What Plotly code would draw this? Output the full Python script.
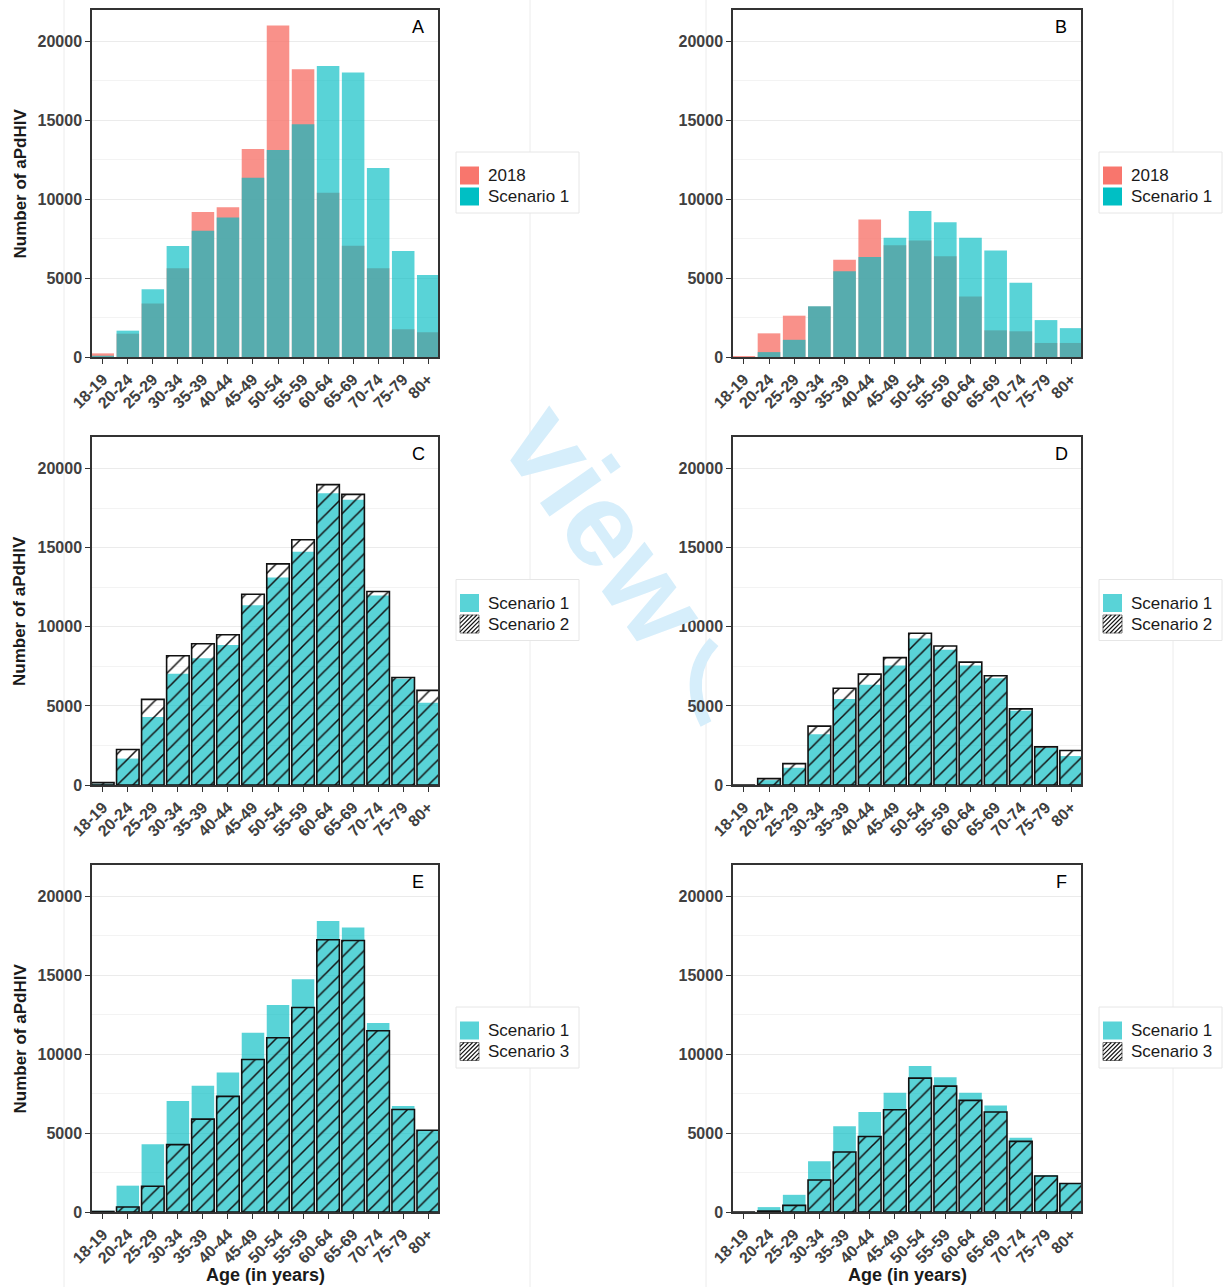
import plotly.graph_objects as go

# ---- data -----------------------------------------------------------------
ages = ["18-19", "20-24", "25-29", "30-34", "35-39", "40-44", "45-49",
        "50-54", "55-59", "60-64", "65-69", "70-74", "75-79", "80+"]

# left column (A, C, E)
pdhiv_2018_left = [230, 1480, 3390, 5630, 9200, 9500, 13180, 21010, 18240,
                   10410, 7050, 5630, 1760, 1570]
scenario1_left = [80, 1670, 4300, 7030, 8010, 8850, 11370, 13120, 14750,
                  18450, 18030, 11980, 6720, 5200]
scenario2_left = [150, 2240, 5410, 8170, 8930, 9500, 12060, 13980, 15500,
                  18990, 18370, 12230, 6800, 5980]
scenario3_left = [30, 320, 1630, 4270, 5890, 7330, 9670, 11050, 12970,
                  17260, 17210, 11490, 6500, 5180]

# right column (B, D, F)
pdhiv_2018_right = [60, 1500, 2620, 3200, 6170, 8720, 7080, 7390, 6380,
                    3840, 1690, 1630, 890, 890]
scenario1_right = [0, 310, 1090, 3210, 5430, 6340, 7560, 9260, 8550,
                   7560, 6750, 4700, 2340, 1830]
scenario2_right = [0, 400, 1350, 3720, 6120, 7010, 8050, 9590, 8790,
                   7770, 6910, 4810, 2410, 2180]
scenario3_right = [0, 60, 420, 2030, 3800, 4790, 6480, 8490, 7980,
                   7080, 6340, 4480, 2280, 1810]

y_ticks = [0, 5000, 10000, 15000, 20000]

# ---- styling ----------------------------------------------------------------
W, H = 1223, 1287
FONT = "Liberation Sans, Arial, sans-serif"
RED = "rgba(248,118,109,0.80)"
TEAL = "rgba(0,188,194,0.65)"
RED_KEY = "#F8766D"
TEAL_KEY = "#00BFC4"
INK = "#1a1a1a"
FRAME = "#333333"
WATERMARK = "#d6eefb"


def px(x):
    return x / W


def py(y):
    return 1 - y / H


# panel letter, left, right, top, bottom (pixels)
panels = [
    ("A", 92, 438, 10, 357),
    ("B", 733, 1081, 10, 357),
    ("C", 92, 438, 437, 785),
    ("D", 733, 1081, 437, 785),
    ("E", 92, 438, 865, 1212),
    ("F", 733, 1081, 865, 1212),
]

fig = go.Figure()


def solid_bar(values, color, name, k):
    return go.Bar(x=ages, y=values, name=name, width=0.9,
                  marker=dict(color=color, line=dict(width=0)),
                  xaxis=f"x{k}", yaxis=f"y{k}", showlegend=False)


def hatch_bar(values, name, k):
    return go.Bar(x=ages, y=values, name=name, width=0.9,
                  marker=dict(color="rgba(0,0,0,0)",
                              line=dict(color="#111111", width=1.6),
                              pattern=dict(shape="/", fgcolor="#111111",
                                           bgcolor="rgba(0,0,0,0)",
                                           size=11, solidity=0.14,
                                           fillmode="replace")),
                  xaxis=f"x{k}", yaxis=f"y{k}", showlegend=False)


fig.add_trace(solid_bar(pdhiv_2018_left, RED, "2018", 1))
fig.add_trace(solid_bar(scenario1_left, TEAL, "Scenario 1", 1))
fig.add_trace(solid_bar(pdhiv_2018_right, RED, "2018", 2))
fig.add_trace(solid_bar(scenario1_right, TEAL, "Scenario 1", 2))
fig.add_trace(solid_bar(scenario1_left, TEAL, "Scenario 1", 3))
fig.add_trace(hatch_bar(scenario2_left, "Scenario 2", 3))
fig.add_trace(solid_bar(scenario1_right, TEAL, "Scenario 1", 4))
fig.add_trace(hatch_bar(scenario2_right, "Scenario 2", 4))
fig.add_trace(solid_bar(scenario1_left, TEAL, "Scenario 1", 5))
fig.add_trace(hatch_bar(scenario3_left, "Scenario 3", 5))
fig.add_trace(solid_bar(scenario1_right, TEAL, "Scenario 1", 6))
fig.add_trace(hatch_bar(scenario3_right, "Scenario 3", 6))

layout = dict(
    width=W, height=H, margin=dict(l=0, r=0, t=0, b=0, autoexpand=False),
    paper_bgcolor="white", plot_bgcolor="white",
    barmode="overlay", bargap=0.1, showlegend=False,
    font=dict(family=FONT, color=INK),
)

shapes = []
annotations = []

# faint page rules behind the figure
for xr in (64, 530, 706, 1173):
    shapes.append(dict(type="line", xref="paper", yref="paper",
                       x0=px(xr), x1=px(xr), y0=0, y1=1, layer="below",
                       line=dict(color="#ececec", width=1)))

# watermark fragments visible between the columns
annotations.append(dict(text="view", xref="paper", yref="paper",
                        x=px(606), y=py(524), showarrow=False,
                        textangle=55,
                        font=dict(family=FONT, size=120, color=WATERMARK,
                                  weight="bold")))
shapes.append(dict(type="path", xref="paper", yref="paper", layer="below",
                   path=(f"M {px(714)},{py(642)} "
                         f"Q {px(682)},{py(676)} {px(706)},{py(724)}"),
                   line=dict(color=WATERMARK, width=12)))

for k, (letter, x0, x1, y0, y1) in enumerate(panels, start=1):
    xa = dict(domain=[px(x0), px(x1)], anchor=f"y{k}", automargin=False,
              type="category", range=[-0.43, 13.39],
              showline=True, linecolor=FRAME, linewidth=1.5, mirror=True,
              ticks="outside", ticklen=5, tickwidth=1.2, tickcolor=FRAME,
              tickangle=-45, showgrid=False, zeroline=False,
              tickfont=dict(family=FONT, size=16, color="#404040",
                            weight="bold"))
    ya = dict(domain=[py(y1), py(y0)], anchor=f"x{k}", automargin=False,
              range=[0, 22000], tickvals=y_ticks,
              ticktext=[str(v) for v in y_ticks],
              showline=True, linecolor=FRAME, linewidth=1.5, mirror=True,
              ticks="outside", ticklen=5, tickwidth=1.2, tickcolor=FRAME,
              showgrid=True, gridcolor="#ebebeb", gridwidth=0.8,
              minor=dict(dtick=2500, tick0=0, showgrid=True,
                         gridcolor="#f3f3f3", gridwidth=0.6, ticks=""),
              zeroline=False,
              tickfont=dict(family=FONT, size=16, color="#404040",
                            weight="bold"))
    sfx = "" if k == 1 else str(k)
    layout[f"xaxis{sfx}"] = xa
    layout[f"yaxis{sfx}"] = ya

    # panel letter
    annotations.append(dict(text=letter, xref="paper", yref="paper",
                            x=px(x1 - 20), y=py(y0 + 17), showarrow=False,
                            xanchor="center", yanchor="middle",
                            font=dict(family=FONT, size=18, color="black")))

    # legend box
    cy = (y0 + y1) / 2 - 1
    bx0 = x1 + 18
    bx1 = bx0 + 123
    shapes.append(dict(type="rect", xref="paper", yref="paper",
                       x0=px(bx0), x1=px(bx1), y0=py(cy + 30.5),
                       y1=py(cy - 30.5), fillcolor="white",
                       line=dict(color="#e6e6e6", width=1), layer="above"))
    if letter in ("A", "B"):
        keys = [("2018", "solid", RED_KEY), ("Scenario 1", "solid", TEAL_KEY)]
    elif letter in ("C", "D"):
        keys = [("Scenario 1", "solid", TEAL), ("Scenario 2", "hatch", None)]
    else:
        keys = [("Scenario 1", "solid", TEAL), ("Scenario 3", "hatch", None)]
    for j, (label, kind, col) in enumerate(keys):
        ky = cy - 7 + 21 * j
        kx0, kx1 = bx0 + 4, bx0 + 23
        ky0, ky1 = ky - 9, ky + 9
        if kind == "solid":
            shapes.append(dict(type="rect", xref="paper", yref="paper",
                               x0=px(kx0), x1=px(kx1), y0=py(ky1), y1=py(ky0),
                               fillcolor=col, line=dict(width=0),
                               layer="above"))
        else:
            shapes.append(dict(type="rect", xref="paper", yref="paper",
                               x0=px(kx0), x1=px(kx1), y0=py(ky1), y1=py(ky0),
                               fillcolor="white",
                               line=dict(color="#7a7a7a", width=1),
                               layer="above"))
            step = 4.2
            c = kx0 + ky0 + step
            while c < kx1 + ky1:
                # segment of x + y = c clipped to the key square
                xa0 = max(kx0, c - ky1)
                xa1 = min(kx1, c - ky0)
                if xa1 > xa0:
                    shapes.append(dict(type="line", xref="paper",
                                       yref="paper",
                                       x0=px(xa0), y0=py(c - xa0),
                                       x1=px(xa1), y1=py(c - xa1),
                                       line=dict(color="#111111", width=1.1),
                                       layer="above"))
                c += step
        annotations.append(dict(text=label, xref="paper", yref="paper",
                                x=px(bx0 + 30), y=py(ky), showarrow=False,
                                xanchor="left", yanchor="middle",
                                font=dict(family=FONT, size=17, color=INK)))

# axis titles
for (letter, x0, x1, y0, y1) in panels:
    if letter in ("A", "C", "E"):
        annotations.append(dict(text="Number of aPdHIV", xref="paper",
                                yref="paper", x=px(20), y=py((y0 + y1) / 2),
                                showarrow=False, textangle=-90,
                                xanchor="center", yanchor="middle",
                                font=dict(family=FONT, size=17, color=INK,
                                          weight="bold")))
    if letter in ("E", "F"):
        annotations.append(dict(text="Age (in years)", xref="paper",
                                yref="paper", x=px((x0 + x1) / 2),
                                y=py(1275), showarrow=False,
                                xanchor="center", yanchor="middle",
                                font=dict(family=FONT, size=18, color=INK,
                                          weight="bold")))

layout["shapes"] = shapes
layout["annotations"] = annotations
fig.update_layout(**layout)

fig.write_html("out.html")
